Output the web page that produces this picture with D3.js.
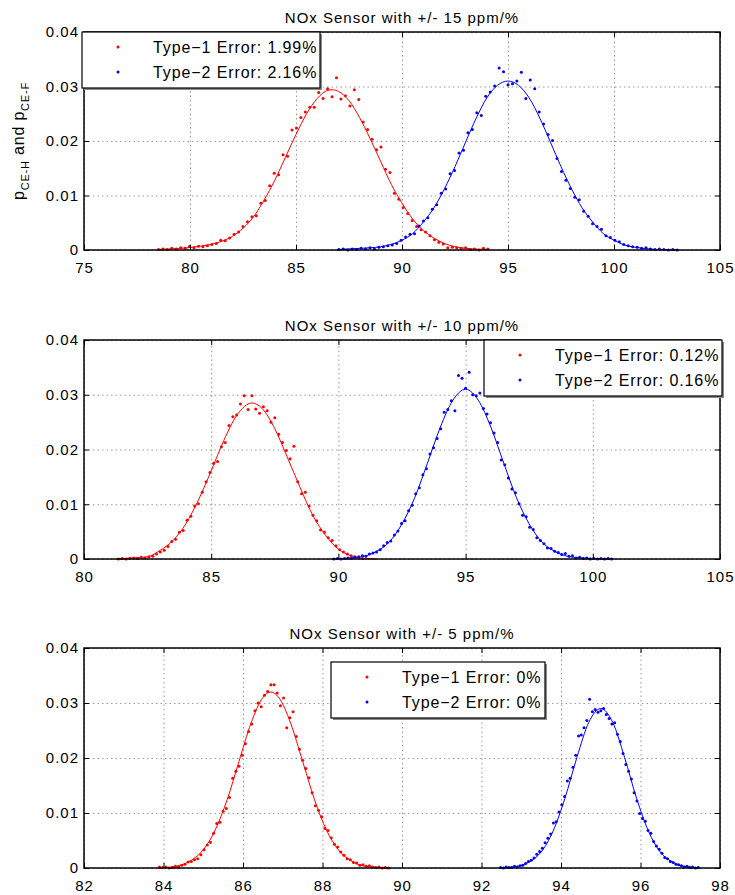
<!DOCTYPE html>
<html>
<head>
<meta charset="utf-8">
<script src="https://cdn.jsdelivr.net/npm/d3@7"></script>
<style>
    body { margin: 0; background: #fff; }
    svg text { font-family: "Liberation Sans", Arial, Helvetica, sans-serif; fill: #000; }
</style>
</head>
<body>
<svg id="chart" width="735" height="895"></svg>
<script>
// ---- data ----
var titles = ["NOx Sensor with +/- 15 ppm/%", "NOx Sensor with +/- 10 ppm/%", "NOx Sensor with +/- 5 ppm/%"];
var type1Labels = ["Type\u22121 Error: 1.99%", "Type\u22121 Error: 0.12%", "Type\u22121 Error: 0%"];
var type2Labels = ["Type\u22122 Error: 2.16%", "Type\u22122 Error: 0.16%", "Type\u22122 Error: 0%"];
var xDomains = [[75, 105], [80, 105], [82, 98]];
var xTickValues = [
    [75, 80, 85, 90, 95, 100, 105],
    [80, 85, 90, 95, 100, 105],
    [82, 84, 86, 88, 90, 92, 94, 96, 98]
];
var yTickValues = [0, 0.01, 0.02, 0.03, 0.04];

// +/- 15 ppm/%
var red15Dots = [[78.51,0.0001],[78.72,0.0002],[78.93,0.0001],[79.14,0.0003],[79.35,0.0002],[79.56,0.0004],[79.77,0.0003],[79.98,0.0007],[80.19,0.0004],[80.40,0.0007],[80.61,0.0006],[80.82,0.0008],[81.03,0.0010],[81.24,0.0012],[81.45,0.0018],[81.66,0.0017],[81.87,0.0022],[82.08,0.0029],[82.29,0.0033],[82.50,0.0043],[82.71,0.0052],[82.92,0.0061],[83.13,0.0063],[83.34,0.0086],[83.55,0.0091],[83.76,0.0118],[83.97,0.0141],[84.18,0.0138],[84.39,0.0175],[84.60,0.0172],[84.81,0.0220],[85.02,0.0224],[85.23,0.0243],[85.44,0.0253],[85.65,0.0262],[85.86,0.0262],[86.07,0.0289],[86.28,0.0278],[86.49,0.0296],[86.70,0.0281],[86.91,0.0316],[87.12,0.0277],[87.33,0.0283],[87.54,0.0264],[87.75,0.0294],[87.96,0.0276],[88.17,0.0235],[88.38,0.0221],[88.59,0.0203],[88.80,0.0184],[89.01,0.0189],[89.22,0.0148],[89.43,0.0142],[89.64,0.0104],[89.85,0.0093],[90.06,0.0078],[90.27,0.0067],[90.48,0.0054],[90.69,0.0043],[90.90,0.0037],[91.11,0.0033],[91.32,0.0026],[91.53,0.0019],[91.74,0.0014],[91.95,0.0011],[92.16,0.0004],[92.37,0.0005],[92.58,0.0004],[92.79,0.0003],[93.00,0.0004],[93.21,0.0001],[93.42,0.0002],[93.63,0.0000],[93.84,0.0003],[94.05,0.0002]];
var red15Fit = [[78.5,0.0001],[79.5,0.0003],[80.5,0.0007],[81.5,0.0016],[82.0,0.0025],[82.5,0.0040],[83.0,0.0061],[83.5,0.0092],[84.0,0.0128],[84.5,0.0170],[85.0,0.0212],[85.5,0.0250],[86.0,0.0278],[86.5,0.0293],[86.7,0.0294],[87.0,0.0291],[87.5,0.0274],[88.0,0.0243],[88.5,0.0204],[89.0,0.0162],[89.5,0.0120],[90.0,0.0086],[90.5,0.0057],[91.0,0.0036],[91.5,0.0022],[92.0,0.0012],[92.5,0.0006],[93.0,0.0003],[94.0,0.0001]];
var blue15Dots = [[87.02,0.0001],[87.23,0.0002],[87.44,0.0000],[87.65,0.0002],[87.86,0.0001],[88.07,0.0003],[88.28,0.0002],[88.49,0.0004],[88.70,0.0002],[88.91,0.0005],[89.12,0.0006],[89.33,0.0008],[89.54,0.0009],[89.75,0.0012],[89.96,0.0018],[90.17,0.0024],[90.38,0.0029],[90.59,0.0030],[90.80,0.0044],[91.01,0.0053],[91.22,0.0059],[91.43,0.0075],[91.64,0.0083],[91.85,0.0104],[92.06,0.0112],[92.27,0.0140],[92.48,0.0146],[92.69,0.0178],[92.90,0.0183],[93.11,0.0215],[93.32,0.0221],[93.53,0.0252],[93.74,0.0247],[93.95,0.0282],[94.16,0.0290],[94.37,0.0301],[94.58,0.0334],[94.79,0.0327],[95.00,0.0303],[95.21,0.0305],[95.42,0.0310],[95.63,0.0326],[95.84,0.0278],[96.05,0.0312],[96.26,0.0296],[96.47,0.0253],[96.68,0.0231],[96.89,0.0212],[97.10,0.0201],[97.31,0.0168],[97.52,0.0144],[97.73,0.0128],[97.94,0.0113],[98.15,0.0097],[98.36,0.0092],[98.57,0.0071],[98.78,0.0062],[98.99,0.0048],[99.20,0.0043],[99.41,0.0038],[99.62,0.0026],[99.83,0.0023],[100.04,0.0018],[100.25,0.0015],[100.46,0.0010],[100.67,0.0008],[100.88,0.0006],[101.09,0.0005],[101.30,0.0003],[101.51,0.0004],[101.72,0.0002],[101.93,0.0001],[102.14,0.0002],[102.35,0.0001],[102.56,0.0000],[102.77,0.0001],[102.98,0.0000]];
var blue15Fit = [[87.0,0.0001],[88.0,0.0003],[89.0,0.0006],[90.0,0.0018],[90.5,0.0030],[91.0,0.0051],[91.5,0.0077],[92.0,0.0112],[92.5,0.0153],[93.0,0.0198],[93.5,0.0242],[94.0,0.0279],[94.5,0.0302],[95.0,0.0310],[95.5,0.0302],[96.0,0.0279],[96.5,0.0242],[97.0,0.0198],[97.5,0.0153],[98.0,0.0112],[98.5,0.0077],[99.0,0.0051],[99.5,0.0030],[100.0,0.0018],[100.5,0.0009],[101.0,0.0005],[102.0,0.0001],[103.0,0.0000]];

// +/- 10 ppm/%
var red10Dots = [[81.35,0.0000],[81.50,0.0001],[81.65,0.0000],[81.80,0.0001],[81.95,0.0002],[82.10,0.0001],[82.25,0.0003],[82.40,0.0002],[82.55,0.0004],[82.70,0.0005],[82.85,0.0009],[83.00,0.0013],[83.15,0.0016],[83.30,0.0023],[83.45,0.0032],[83.60,0.0036],[83.75,0.0049],[83.90,0.0052],[84.05,0.0071],[84.20,0.0078],[84.35,0.0097],[84.50,0.0101],[84.65,0.0122],[84.80,0.0141],[84.95,0.0158],[85.10,0.0175],[85.25,0.0178],[85.40,0.0205],[85.55,0.0213],[85.70,0.0244],[85.85,0.0260],[86.00,0.0263],[86.15,0.0283],[86.30,0.0298],[86.45,0.0273],[86.60,0.0298],[86.75,0.0274],[86.90,0.0266],[87.05,0.0278],[87.20,0.0271],[87.35,0.0250],[87.50,0.0258],[87.65,0.0228],[87.80,0.0213],[87.95,0.0198],[88.10,0.0183],[88.25,0.0206],[88.40,0.0141],[88.55,0.0119],[88.70,0.0122],[88.85,0.0097],[89.00,0.0080],[89.15,0.0070],[89.30,0.0053],[89.45,0.0049],[89.60,0.0039],[89.75,0.0034],[89.90,0.0024],[90.05,0.0017],[90.20,0.0013],[90.35,0.0009],[90.50,0.0006],[90.65,0.0004],[90.80,0.0002],[90.95,0.0001]];
var red10Fit = [[81.3,0.0000],[82.0,0.0002],[82.5,0.0004],[83.0,0.0016],[83.5,0.0034],[84.0,0.0064],[84.5,0.0108],[85.0,0.0161],[85.5,0.0217],[86.0,0.0262],[86.6,0.0285],[87.0,0.0275],[87.5,0.0238],[88.0,0.0185],[88.5,0.0130],[89.0,0.0079],[89.5,0.0043],[90.0,0.0018],[90.5,0.0006],[91.0,0.0001],[91.5,0.0000]];
var blue10Dots = [[89.82,0.0000],[89.96,0.0001],[90.10,0.0000],[90.24,0.0001],[90.38,0.0002],[90.52,0.0001],[90.66,0.0003],[90.80,0.0004],[90.94,0.0006],[91.08,0.0005],[91.22,0.0009],[91.36,0.0011],[91.50,0.0013],[91.64,0.0017],[91.78,0.0024],[91.92,0.0030],[92.06,0.0033],[92.20,0.0044],[92.34,0.0051],[92.48,0.0065],[92.62,0.0070],[92.76,0.0088],[92.90,0.0098],[93.04,0.0119],[93.18,0.0130],[93.32,0.0154],[93.46,0.0165],[93.60,0.0192],[93.74,0.0203],[93.88,0.0220],[94.02,0.0238],[94.16,0.0268],[94.30,0.0273],[94.44,0.0289],[94.58,0.0271],[94.72,0.0335],[94.86,0.0330],[95.00,0.0312],[95.14,0.0341],[95.28,0.0300],[95.42,0.0298],[95.56,0.0303],[95.70,0.0275],[95.84,0.0265],[95.98,0.0249],[96.12,0.0230],[96.26,0.0213],[96.40,0.0181],[96.54,0.0172],[96.68,0.0148],[96.82,0.0128],[96.96,0.0121],[97.10,0.0101],[97.24,0.0080],[97.38,0.0077],[97.52,0.0058],[97.66,0.0054],[97.80,0.0039],[97.94,0.0034],[98.08,0.0028],[98.22,0.0020],[98.36,0.0019],[98.50,0.0014],[98.64,0.0012],[98.78,0.0008],[98.92,0.0010],[99.06,0.0005],[99.20,0.0006],[99.34,0.0002],[99.48,0.0003],[99.62,0.0001],[99.76,0.0002],[99.90,0.0000],[100.04,0.0001],[100.18,0.0000],[100.32,0.0001],[100.46,0.0000],[100.60,0.0001],[100.74,0.0000]];
var blue10Fit = [[89.8,0.0000],[90.5,0.0002],[91.0,0.0005],[91.5,0.0014],[92.0,0.0031],[92.5,0.0064],[93.0,0.0112],[93.5,0.0175],[94.0,0.0240],[94.5,0.0290],[95.0,0.0310],[95.5,0.0290],[96.0,0.0240],[96.5,0.0175],[97.0,0.0112],[97.5,0.0064],[98.0,0.0031],[98.5,0.0014],[99.0,0.0005],[99.5,0.0002],[100.0,0.0001],[100.8,0.0000]];

// +/- 5 ppm/%
var red5Dots = [[83.90,0.0002],[83.98,0.0001],[84.06,0.0002],[84.14,0.0000],[84.22,0.0001],[84.30,0.0003],[84.38,0.0002],[84.46,0.0005],[84.54,0.0007],[84.62,0.0011],[84.70,0.0012],[84.78,0.0015],[84.86,0.0017],[84.94,0.0024],[85.02,0.0033],[85.10,0.0042],[85.18,0.0047],[85.26,0.0063],[85.34,0.0081],[85.42,0.0083],[85.50,0.0103],[85.58,0.0108],[85.66,0.0128],[85.74,0.0163],[85.82,0.0176],[85.90,0.0185],[85.98,0.0205],[86.06,0.0226],[86.14,0.0248],[86.22,0.0262],[86.30,0.0286],[86.38,0.0300],[86.46,0.0293],[86.54,0.0314],[86.62,0.0321],[86.70,0.0333],[86.78,0.0333],[86.86,0.0318],[86.94,0.0295],[87.02,0.0309],[87.10,0.0255],[87.18,0.0273],[87.26,0.0284],[87.34,0.0239],[87.42,0.0216],[87.50,0.0196],[87.58,0.0181],[87.66,0.0164],[87.74,0.0137],[87.82,0.0113],[87.90,0.0105],[87.98,0.0093],[88.06,0.0072],[88.14,0.0068],[88.22,0.0055],[88.30,0.0043],[88.38,0.0038],[88.46,0.0029],[88.54,0.0023],[88.62,0.0017],[88.70,0.0015],[88.78,0.0010],[88.86,0.0009],[88.94,0.0005],[89.02,0.0006],[89.10,0.0003],[89.18,0.0004],[89.26,0.0002],[89.34,0.0001],[89.42,0.0002],[89.50,0.0000],[89.58,0.0001],[89.66,0.0000]];
var red5Fit = [[83.9,0.0000],[84.3,0.0003],[84.7,0.0014],[85.0,0.0033],[85.3,0.0069],[85.6,0.0124],[85.9,0.0194],[86.2,0.0263],[86.5,0.0310],[86.7,0.0320],[86.9,0.0310],[87.2,0.0263],[87.5,0.0194],[87.8,0.0124],[88.1,0.0069],[88.4,0.0033],[88.7,0.0014],[89.1,0.0003],[89.7,0.0000]];
var blue5Dots = [[92.48,0.0001],[92.55,0.0000],[92.62,0.0002],[92.69,0.0001],[92.76,0.0001],[92.83,0.0003],[92.90,0.0002],[92.97,0.0004],[93.04,0.0005],[93.11,0.0008],[93.18,0.0012],[93.25,0.0014],[93.32,0.0018],[93.39,0.0025],[93.46,0.0030],[93.53,0.0036],[93.60,0.0046],[93.67,0.0054],[93.74,0.0062],[93.81,0.0082],[93.88,0.0084],[93.95,0.0102],[94.02,0.0115],[94.09,0.0130],[94.16,0.0158],[94.23,0.0163],[94.30,0.0183],[94.37,0.0205],[94.44,0.0240],[94.51,0.0242],[94.58,0.0255],[94.65,0.0268],[94.72,0.0307],[94.79,0.0284],[94.86,0.0288],[94.93,0.0283],[95.00,0.0286],[95.07,0.0290],[95.14,0.0279],[95.21,0.0272],[95.28,0.0262],[95.35,0.0264],[95.42,0.0243],[95.49,0.0230],[95.56,0.0208],[95.63,0.0188],[95.70,0.0176],[95.77,0.0162],[95.84,0.0137],[95.91,0.0122],[95.98,0.0099],[96.05,0.0090],[96.12,0.0085],[96.19,0.0068],[96.26,0.0063],[96.33,0.0048],[96.40,0.0040],[96.47,0.0034],[96.54,0.0027],[96.61,0.0019],[96.68,0.0017],[96.75,0.0012],[96.82,0.0010],[96.89,0.0007],[96.96,0.0006],[97.03,0.0004],[97.10,0.0002],[97.17,0.0003],[97.24,0.0001],[97.31,0.0002],[97.38,0.0000],[97.45,0.0001]];
var blue5Fit = [[92.5,0.0000],[92.9,0.0003],[93.2,0.0011],[93.5,0.0029],[93.8,0.0067],[94.1,0.0127],[94.4,0.0201],[94.7,0.0265],[95.0,0.0290],[95.3,0.0265],[95.6,0.0201],[95.9,0.0127],[96.2,0.0067],[96.5,0.0029],[96.8,0.0011],[97.1,0.0003],[97.5,0.0000]];

var redDots = [red15Dots, red10Dots, red5Dots];
var redFits = [red15Fit, red10Fit, red5Fit];
var blueDots = [blue15Dots, blue10Dots, blue5Dots];
var blueFits = [blue15Fit, blue10Fit, blue5Fit];

// ---- layout ----
var RED = '#ff0000', BLUE = '#0000ff';
var plotLeft = 84, plotRight = 720;
var boxes = [{top: 32, bottom: 250}, {top: 340, bottom: 559}, {top: 648, bottom: 868}];
var legends = [{x: 82, y: 32, w: 238}, {x: 484, y: 340, w: 238}, {x: 331, y: 662, w: 214}];

var svg = d3.select('#chart');

boxes.forEach(function(box, i) {
    var x = d3.scaleLinear().domain(xDomains[i]).range([plotLeft, plotRight]),
        y = d3.scaleLinear().domain([0, 0.04]).range([box.bottom, box.top]),
        h = box.bottom - box.top,
        w = plotRight - plotLeft;

    var g = svg.append('g');

    // dotted grid
    g.append('g')
        .attr('transform', 'translate(0,' + box.bottom + ')')
        .call(d3.axisBottom(x).tickValues(xTickValues[i]).tickSize(-h).tickFormat(''))
        .call(function(s) {
            s.select('.domain').remove();
            s.selectAll('line').attr('stroke', '#9a9a9a').attr('stroke-dasharray', '1.5,3');
        });
    g.append('g')
        .attr('transform', 'translate(' + plotLeft + ',0)')
        .call(d3.axisLeft(y).tickValues(yTickValues).tickSize(-w).tickFormat(''))
        .call(function(s) {
            s.select('.domain').remove();
            s.selectAll('line').attr('stroke', '#9a9a9a').attr('stroke-dasharray', '1.5,3');
        });

    var line = d3.line()
        .x(function(d) { return x(d[0]); })
        .y(function(d) { return y(d[1]); })
        .curve(d3.curveMonotoneX);

    [[redFits[i], redDots[i], RED], [blueFits[i], blueDots[i], BLUE]].forEach(function(s) {
        g.append('path')
            .datum(s[0])
            .attr('fill', 'none')
            .attr('stroke', s[2])
            .attr('stroke-width', 1)
            .attr('d', line);
        g.selectAll(null)
            .data(s[1])
            .enter().append('circle')
            .attr('cx', function(d) { return x(d[0]); })
            .attr('cy', function(d) { return y(d[1]); })
            .attr('r', 1.5)
            .attr('fill', s[2]);
    });

    // axes: ticks inside, labels bottom / left
    var styleAxis = function(s) {
        s.select('.domain').remove();
        s.selectAll('line').attr('stroke', '#000');
        s.selectAll('text')
            .attr('font-size', 15)
            .attr('letter-spacing', 1)
            .attr('font-family', '"Liberation Sans", Arial, sans-serif');
    };
    g.append('g')
        .attr('transform', 'translate(0,' + box.bottom + ')')
        .call(d3.axisBottom(x).tickValues(xTickValues[i]).tickSizeInner(-5).tickSizeOuter(0).tickPadding(12).tickFormat(d3.format('d')))
        .call(styleAxis);
    g.append('g')
        .attr('transform', 'translate(0,' + box.top + ')')
        .call(d3.axisTop(x).tickValues(xTickValues[i]).tickSizeInner(-5).tickSizeOuter(0).tickFormat(''))
        .call(styleAxis);
    g.append('g')
        .attr('transform', 'translate(' + plotLeft + ',0)')
        .call(d3.axisLeft(y).tickValues(yTickValues).tickSizeInner(-5).tickSizeOuter(0).tickPadding(5)
            .tickFormat(function(d) { return d === 0 ? '0' : d3.format('.2f')(d); }))
        .call(styleAxis);
    g.append('g')
        .attr('transform', 'translate(' + plotRight + ',0)')
        .call(d3.axisRight(y).tickValues(yTickValues).tickSizeInner(-5).tickSizeOuter(0).tickFormat(''))
        .call(styleAxis);

    g.append('rect')
        .attr('x', plotLeft).attr('y', box.top)
        .attr('width', w).attr('height', h)
        .attr('fill', 'none')
        .attr('stroke', '#000')
        .attr('stroke-width', 1.5);

    g.append('text')
        .attr('x', (plotLeft + plotRight) / 2)
        .attr('y', box.top - 9)
        .attr('text-anchor', 'middle')
        .attr('font-size', 15)
        .attr('letter-spacing', 1)
        .text(titles[i]);

    // legend
    var lg = legends[i];
    var leg = g.append('g').attr('transform', 'translate(' + lg.x + ',' + lg.y + ')');
    leg.append('rect')
        .attr('x', 2).attr('y', 2).attr('width', lg.w).attr('height', 56)
        .attr('fill', '#8a8a8a');
    leg.append('rect')
        .attr('width', lg.w).attr('height', 56)
        .attr('fill', '#fff').attr('stroke', '#000').attr('stroke-width', 1.2);
    [[type1Labels[i], RED, 15], [type2Labels[i], BLUE, 40]].forEach(function(e) {
        leg.append('circle').attr('cx', 36).attr('cy', e[2]).attr('r', 1.5).attr('fill', e[1]);
        leg.append('text')
            .attr('x', 71).attr('y', e[2]).attr('dy', '0.36em')
            .attr('font-size', 16)
            .attr('letter-spacing', 0.9)
            .text(e[0]);
    });
});

// y label on the first panel only
var ylab = svg.append('text')
    .attr('transform', 'translate(24,' + (boxes[0].top + boxes[0].bottom) / 2 + ') rotate(-90)')
    .attr('text-anchor', 'middle')
    .attr('font-size', 16)
    .attr('letter-spacing', 0.8);
ylab.append('tspan').text('p');
ylab.append('tspan').attr('dy', 5).attr('font-size', 11).text('CE-H');
ylab.append('tspan').attr('dy', -5).text(' and p');
ylab.append('tspan').attr('dy', 5).attr('font-size', 11).text('CE-F');
</script>
</body>
</html>
